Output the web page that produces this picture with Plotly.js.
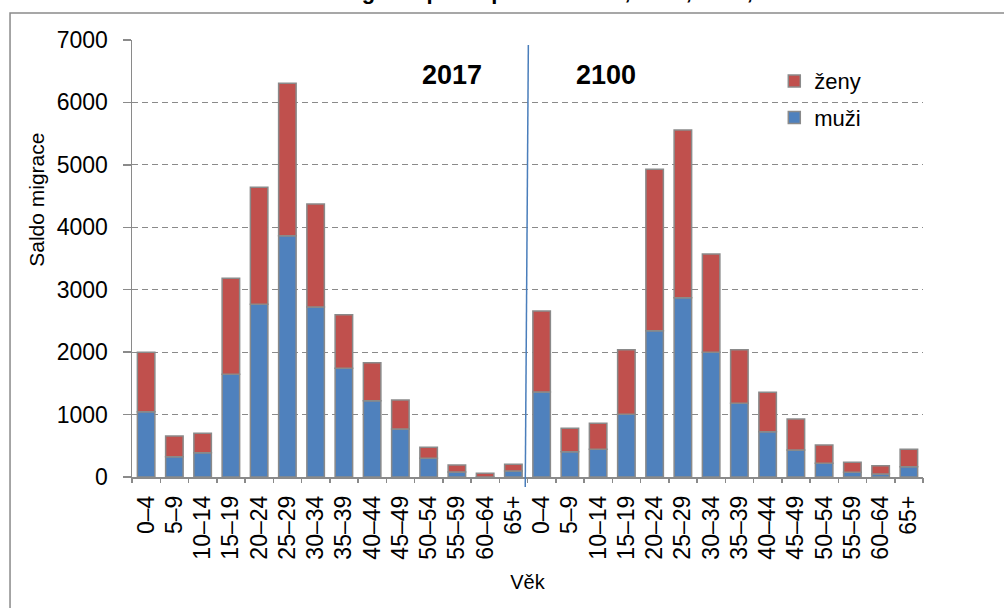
<!DOCTYPE html>
<html><head><meta charset="utf-8">
<script src="https://cdn.plot.ly/plotly-3.0.1.min.js"></script>
<style>html,body{margin:0;padding:0;background:#fff}#chart{width:1004px;height:608px}</style>
</head><body><div id="chart"></div>
<script>
const ageGroups = ["0–4","5–9","10–14","15–19","20–24","25–29","30–34","35–39","40–44","45–49","50–54","55–59","60–64","65+"];
const yearLabels = ["2017","2100"];
const muzi2017 = [1046,325,389,1645,2766,3866,2723,1741,1222,769,300,80,-15,96];
const zeny2017 = [951,332,311,1538,1874,2440,1650,859,609,464,176,112,60,107];
const muzi2100 = [1361,405,443,1004,2344,2872,1997,1180,726,432,219,75,48,165];
const zeny2100 = [1298,375,417,1036,2584,2686,1575,860,630,497,294,160,133,278];
const seriesNames = ["muži","ženy"];
const titleText = "Graf 3: Věková struktura salda migrace podle pohlaví v ČR, 2017, 2100, střední varianta";

const tickText = ageGroups.concat(ageGroups);
const xPos = tickText.map((_, i) => i);
const boundaries = [];
for (let i = 0; i <= tickText.length; i++) boundaries.push(i - 0.5);

const FONT = "Liberation Sans, Arial, sans-serif";
const GRAY = "#8a8a8a";

const traces = [
  {type:"bar", name:seriesNames[0], x:xPos, y:muzi2017.concat(muzi2100), legendgroup:"m", legendrank:2,
   marker:{color:"#4F81BD", line:{color:GRAY, width:1.5}}, cliponaxis:false, hoverinfo:"y"},
  {type:"bar", name:seriesNames[1], x:xPos, y:zeny2017.concat(zeny2100), legendgroup:"z", legendrank:1,
   marker:{color:"#C0504D", line:{color:GRAY, width:1.5}}, cliponaxis:false, hoverinfo:"y"},
  {type:"scatter", mode:"markers", x:[0], y:[0], xaxis:"x2", yaxis:"y",
   marker:{opacity:0}, showlegend:false, hoverinfo:"skip"}
];

const layout = {
  width:1004, height:608,
  margin:{l:132, r:81, t:40, b:131},
  paper_bgcolor:"#fff", plot_bgcolor:"#fff",
  font:{family:FONT, color:"#000"},
  barmode:"relative", bargap:0.38,
  showlegend:true,
  legend:{x:0.812, y:0.954, xanchor:"left", yanchor:"top", traceorder:"grouped",
          tracegroupgap:5, font:{size:22, family:FONT}, bgcolor:"rgba(0,0,0,0)"},
  xaxis:{range:[-0.5, tickText.length-0.5], tickmode:"array", tickvals:xPos, ticktext:tickText,
         tickangle:-90, ticks:"", showline:true, linecolor:GRAY, linewidth:1.5,
         showgrid:false, zeroline:false, tickfont:{size:23, family:FONT}, ticklabelstandoff:8,
         title:{text:"Věk", font:{size:20, family:FONT}, standoff:16}, fixedrange:true},
  xaxis2:{overlaying:"x", anchor:"y", side:"bottom", range:[-0.5, tickText.length-0.5],
          tickmode:"array", tickvals:boundaries, showticklabels:false, ticks:"outside",
          ticklen:5, tickwidth:1.5, tickcolor:GRAY, showline:false, showgrid:false, zeroline:false},
  yaxis:{range:[0,7000], tick0:0, dtick:1000, ticks:"outside", ticklen:8, tickwidth:1.5,
         tickcolor:GRAY, showline:true, linecolor:GRAY, linewidth:1.5,
         showgrid:true, gridcolor:GRAY, gridwidth:1.2, griddash:"6px,4px", zeroline:false,
         tickfont:{size:23, family:FONT}, ticklabelstandoff:10, fixedrange:true},
  shapes:[
    {type:"rect", xref:"paper", yref:"paper", x0:-0.1542, x1:1.3, y0:-0.5, y1:1.0618,
     line:{color:GRAY, width:1.5}, fillcolor:"rgba(0,0,0,0)", layer:"below"},
    {type:"line", xref:"x", yref:"paper", x0:13.53, y0:0.9886, x1:13.42, y1:-0.023,
     line:{color:"#4a7ebb", width:1.5}}
  ],
  annotations:[
    {text:"<b>"+yearLabels[0]+"</b>", xref:"x", yref:"y", x:10.83, y:6439, showarrow:false,
     font:{size:27, family:FONT}},
    {text:"<b>"+yearLabels[1]+"</b>", xref:"x", yref:"y", x:16.28, y:6439, showarrow:false,
     font:{size:27, family:FONT}},
    {text:"Saldo migrace", xref:"paper", yref:"paper", x:-0.121, y:0.635, textangle:-90,
     xanchor:"center", yanchor:"middle", showarrow:false, font:{size:21, family:FONT}},
    {text:"<b>"+titleText+"</b>", xref:"paper", yref:"paper", x:-0.154, y:1.0785,
     xanchor:"left", yanchor:"bottom", showarrow:false, font:{size:22, family:FONT}}
  ]
};

Plotly.newPlot("chart", traces, layout, {staticPlot:true, displayModeBar:false});
</script></body></html>
